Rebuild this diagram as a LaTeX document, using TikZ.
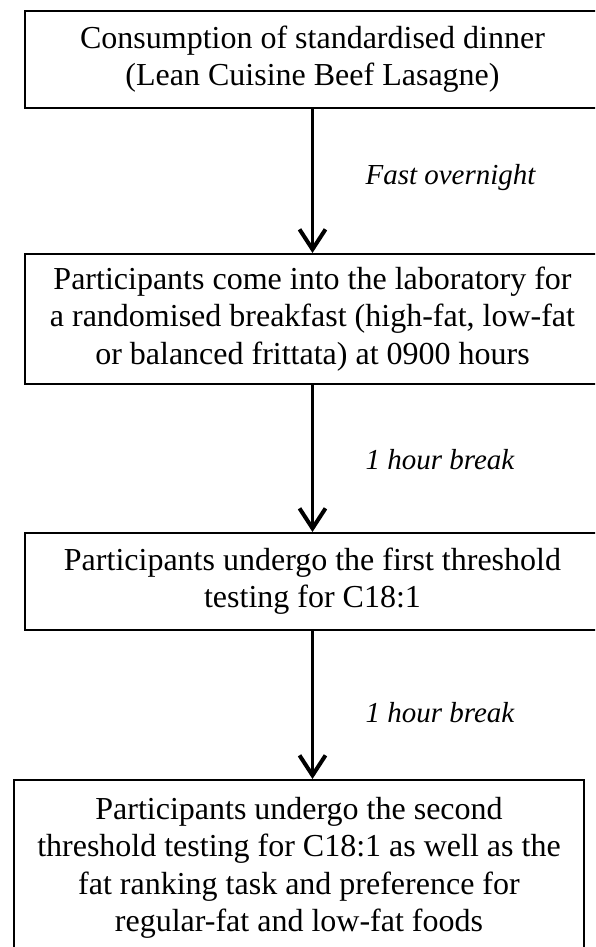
\documentclass[tikz,border=0pt]{standalone}
\usepackage{fontspec}
\setmainfont{Liberation Serif}
\usetikzlibrary{arrows.meta}

\tikzset{
	box/.style={draw, line width=1.8pt, align=center, inner sep=0pt, font=\fontsize{32}{37.5}\selectfont},
	arr/.style={line width=2.8pt, -{Straight Barb[length=20pt, width=26pt, line width=4pt]}},
	lbl/.style={anchor=west, font=\fontsize{29}{35}\selectfont\itshape}
}

\begin{document}
\begin{tikzpicture}[x=1pt,y=-1pt]
	\useasboundingbox (0,0) rectangle (595,947);
	\clip (0,0) rectangle (595,947);
	\node[box, anchor=north, minimum width=575pt, minimum height=97pt] (dinner) at (312.5,10) {Consumption of standardised dinner\\(Lean Cuisine Beef Lasagne)};
	\node[box, anchor=north, minimum width=575pt, minimum height=130pt] (breakfast) at (312.5,253) {Participants come into the laboratory for\\a randomised breakfast (high-fat, low-fat\\or balanced frittata) at 0900 hours};
	\node[box, anchor=north, minimum width=575pt, minimum height=97pt] (first) at (312.5,532) {Participants undergo the first threshold\\testing for C18:1};
	\node[box, anchor=north, minimum width=570pt, minimum height=176pt] (second) at (299,779) {Participants undergo the second\\threshold testing for C18:1 as well as the\\fat ranking task and preference for\\regular-fat and low-fat foods};
	\draw[arr] (dinner) -- (breakfast);
	\draw[arr] (breakfast) -- (first);
	\draw[arr] (first.south) -- (first.south |- second.north);
	\node[lbl] (fast) at (362,178) {Fast overnight};
	\node[lbl] (hour1) at (362,460) {1 hour break};
	\node[lbl] (hour2) at (362,713) {1 hour break};
\end{tikzpicture}
\end{document}
